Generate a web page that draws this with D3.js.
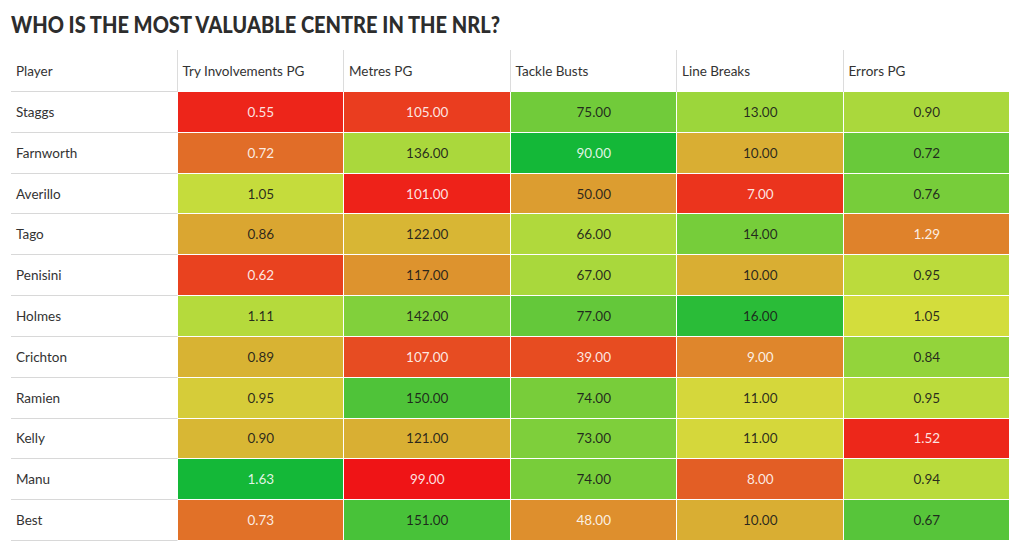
<!DOCTYPE html>
<html>
<head>
<meta charset="utf-8">
<script src="https://cdn.jsdelivr.net/npm/d3@7"></script>
<style>
  html, body { margin: 0; padding: 0; background: #fff; }
  svg { display: block; }
  text { font-family: "Lato", "Noto Sans", sans-serif; }
</style>
</head>
<body>
<svg id="chart" width="1020" height="552"></svg>
<script>
// ---- data ----
const title = "WHO IS THE MOST VALUABLE CENTRE IN THE NRL?";
const headers = ["Player", "Try Involvements PG", "Metres PG", "Tackle Busts", "Line Breaks", "Errors PG"];
const players = ["Staggs", "Farnworth", "Averillo", "Tago", "Penisini", "Holmes", "Crichton", "Ramien", "Kelly", "Manu", "Best"];
const tryInvolvements = [0.55, 0.72, 1.05, 0.86, 0.62, 1.11, 0.89, 0.95, 0.90, 1.63, 0.73];
const metres = [105, 136, 101, 122, 117, 142, 107, 150, 121, 99, 151];
const tackleBusts = [75, 90, 50, 66, 67, 77, 39, 74, 73, 74, 48];
const lineBreaks = [13, 10, 7, 14, 10, 16, 9, 11, 11, 8, 10];
const errors = [0.90, 0.72, 0.76, 1.29, 0.95, 1.05, 0.84, 0.95, 1.52, 0.94, 0.67];

// ---- colour ramp (red -> yellow -> green) ----
const rampStops = [0, 0.1, 0.2, 0.3, 0.4, 0.49, 0.6, 0.7, 0.8, 0.9, 1];
const rampColors = ["#f00d15", "#eb361d", "#e26226", "#de8c2d", "#d8b634", "#d4dd3c",
                    "#b8db3c", "#8ed33b", "#68c93a", "#42c039", "#14b838"];
const ramp = d3.scaleLinear().domain(rampStops).range(rampColors).interpolate(d3.interpolateRgb).clamp(true);

const columns = [
  { key: headers[1], values: tryInvolvements, dom: [0.49, 1.51], fmt: d3.format(".2f") },
  { key: headers[2], values: metres,          dom: [98, 158],    fmt: d3.format(".2f") },
  { key: headers[3], values: tackleBusts,     dom: [30.4, 87.9], fmt: d3.format(".2f") },
  { key: headers[4], values: lineBreaks,      dom: [6, 16.5],    fmt: d3.format(".2f") },
  { key: headers[5], values: errors,          dom: [1.59, 0.50], fmt: d3.format(".2f") }
];
columns.forEach(c => { c.t = d3.scaleLinear().domain(c.dom).range([0, 1]).clamp(true); });

// ---- layout ----
const svg = d3.select("#chart");
const left = 11, right = 1010, headTop = 50, headBottom = 92, bottom = 541;

const x = d3.scaleBand().domain(headers).range([left, right]);
const y = d3.scaleBand().domain(players).range([headBottom, bottom]);

svg.append("text")
  .attr("x", left).attr("y", 33)
  .attr("font-size", 23).attr("font-weight", 900)
  .attr("fill", "#2d2d2d")
  .attr("textLength", 489).attr("lengthAdjust", "spacingAndGlyphs")
  .text(title);

// header
const head = svg.append("g");
head.selectAll("line.sep").data(headers.slice(1)).join("line")
  .attr("x1", d => Math.round(x(d)) - 0.5).attr("x2", d => Math.round(x(d)) - 0.5)
  .attr("y1", headTop).attr("y2", headBottom)
  .attr("stroke", "#dcdcdc");
head.selectAll("text").data(headers).join("text")
  .attr("x", d => x(d) + 5).attr("y", 76)
  .attr("font-size", 13.5).attr("fill", "#333")
  .text(d => d);
head.append("line")
  .attr("x1", left).attr("x2", x(headers[1]))
  .attr("y1", headBottom - 0.5).attr("y2", headBottom - 0.5)
  .attr("stroke", "#d8d8d8");

// player column
const pl = svg.append("g");
pl.selectAll("line").data(players).join("line")
  .attr("x1", left).attr("x2", x(headers[1]))
  .attr("y1", d => Math.round(y(d) + y.bandwidth()) - 0.5)
  .attr("y2", d => Math.round(y(d) + y.bandwidth()) - 0.5)
  .attr("stroke", "#d8d8d8");
pl.selectAll("text").data(players).join("text")
  .attr("x", left + 5).attr("y", d => y(d) + y.bandwidth() / 2 + 4.5)
  .attr("font-size", 13.5).attr("fill", "#333")
  .text(d => d);

// heat cells
function lum(c) {
  const r = d3.rgb(c);
  const f = v => { v /= 255; return v <= 0.03928 ? v / 12.92 : Math.pow((v + 0.055) / 1.055, 2.4); };
  return 0.2126 * f(r.r) + 0.7152 * f(r.g) + 0.0722 * f(r.b);
}
const cells = [];
columns.forEach(c => c.values.forEach((v, i) => {
  const col = ramp(c.t(v));
  cells.push({ col: c.key, player: players[i], v, fmt: c.fmt, color: col, dark: lum(col) > 0.36 });
}));

const cg = svg.append("g");
cg.selectAll("rect").data(cells).join("rect")
  .attr("x", d => Math.round(x(d.col)))
  .attr("y", d => Math.round(y(d.player)))
  .attr("width", d => Math.round(x(d.col) + x.bandwidth()) - Math.round(x(d.col)) - 1)
  .attr("height", d => Math.round(y(d.player) + y.bandwidth()) - Math.round(y(d.player)) - 1)
  .attr("fill", d => d.color);
cg.selectAll("text").data(cells).join("text")
  .attr("x", d => x(d.col) + x.bandwidth() / 2)
  .attr("y", d => y(d.player) + y.bandwidth() / 2 + 4.5)
  .attr("text-anchor", "middle")
  .attr("font-size", 13.5)
  .attr("fill", d => d.dark ? "#1a1a1a" : "#fff")
  .attr("fill-opacity", d => d.dark ? 0.92 : 0.88)
  .text(d => d.fmt(d.v));
</script>
</body>
</html>
